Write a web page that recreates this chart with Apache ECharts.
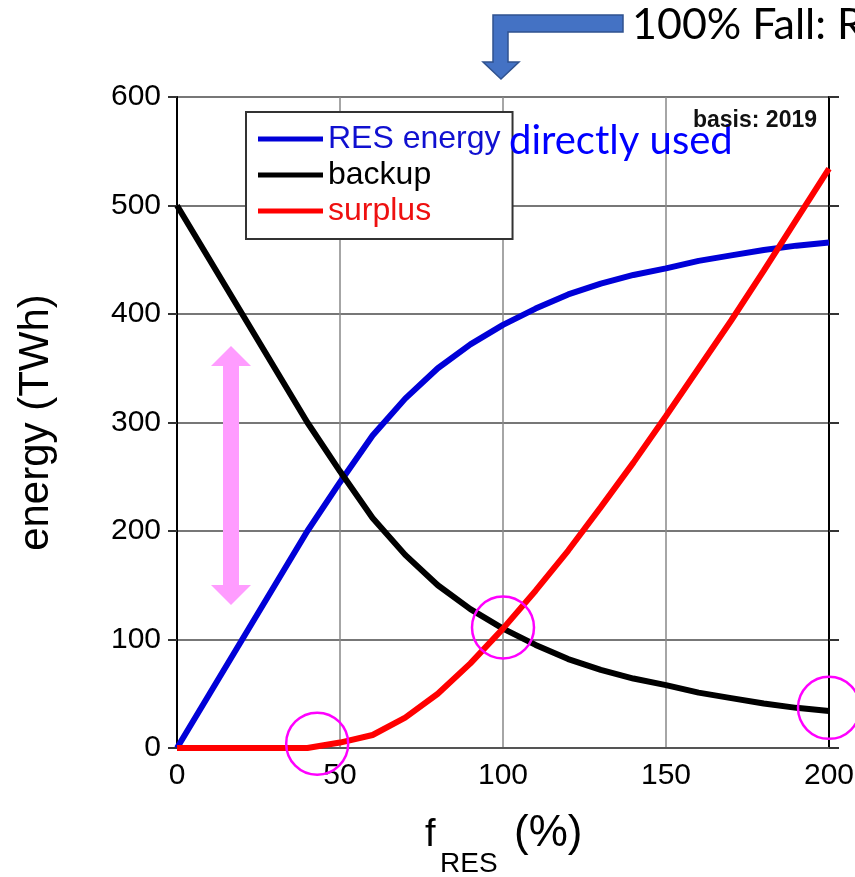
<!DOCTYPE html>
<html>
<head>
<meta charset="utf-8">
<script src="https://cdn.jsdelivr.net/npm/echarts@6/dist/echarts.min.js"></script>
<style>
html,body{margin:0;padding:0;background:#fff;}
#chart{width:855px;height:877px;}
</style>
</head>
<body>
<div id="chart"></div>
<script>
// ---- data ----
const fRes = [0,10,20,30,40,50,60,70,80,90,100,110,120,130,140,150,160,170,180,190,200];
const resDirect = [0,50,100,150,200,245,288,322,350,372,390,405,418,428,436,442,449,454,459,463,466];
const backup = [500,450,400,350,300,255,212,178,150,128,110,95,82,72,64,58,51,46,41,37,34];
const surplus = [0,0,0,0,0,5,12,28,50,78,110,145,182,222,263,306,350,394,440,487,534];
const seriesNames = ['RES energy','backup','surplus'];
const xTicks = [0,50,100,150,200];
const yTicks = [0,100,200,300,400,500,600];
const circlePoints = [[43,4],[100,111],[200,37]];

const pairs = (xs, ys) => xs.map((x,i)=>[x, ys[i]]);

const chart = echarts.init(document.getElementById('chart'), null, {renderer:'canvas'});
const AR = "'Liberation Sans', Arial, sans-serif";

const option = {
  animation:false,
  backgroundColor:'#fff',
  grid:{left:177, top:97, right:26, bottom:129, containLabel:false, outerBoundsMode:'none'},
  legend:{
    orient:'vertical', left:246, top:112,
    padding:[11,12,12,12],
    borderColor:'#333', borderWidth:2, backgroundColor:'#fff',
    icon:'rect', itemWidth:65, itemHeight:5, itemGap:4,
    selectedMode:false,
    textStyle:{fontFamily:AR, fontSize:32, lineHeight:32},
    data:[
      {name:seriesNames[0], textStyle:{color:'#1010d0'}},
      {name:seriesNames[1], textStyle:{color:'#000'}},
      {name:seriesNames[2], textStyle:{color:'#ee1010'}}
    ]
  },
  xAxis:{
    type:'value', min:xTicks[0], max:xTicks[xTicks.length-1], interval:50,
    axisLine:{show:true, onZero:false, lineStyle:{color:'#555', width:2}},
    axisTick:{show:false},
    axisLabel:{fontFamily:AR, fontSize:30, color:'#000', margin:13},
    splitLine:{show:true, lineStyle:{color:'#888', width:1.5}}
  },
  yAxis:[{
    type:'value', min:yTicks[0], max:yTicks[yTicks.length-1], interval:100,
    name:'energy (TWh)', nameLocation:'middle', nameRotate:90, nameGap:120,
    nameTextStyle:{fontFamily:AR, fontSize:42, color:'#000'},
    axisLine:{show:true, lineStyle:{color:'#000', width:2}},
    axisTick:{show:true, inside:false, length:9, lineStyle:{color:'#333', width:2}},
    axisLabel:{fontFamily:AR, fontSize:30, color:'#000', margin:16},
    splitLine:{show:true, lineStyle:{color:'#777', width:2}}
  },{
    type:'value', position:'right', min:yTicks[0], max:yTicks[yTicks.length-1], interval:100,
    axisLine:{show:true, lineStyle:{color:'#000', width:2}},
    axisTick:{show:true, inside:false, length:10, lineStyle:{color:'#333', width:2}},
    axisLabel:{show:false},
    splitLine:{show:false}
  }],
  series:[
    {name:seriesNames[0], type:'line', data:pairs(fRes,resDirect), showSymbol:false, symbol:'none',
     color:'#0000d8', lineStyle:{color:'#0000d8', width:6}, z:3},
    {name:seriesNames[1], type:'line', data:pairs(fRes,backup), showSymbol:false, symbol:'none',
     color:'#000', lineStyle:{color:'#000', width:6}, z:4},
    {name:seriesNames[2], type:'line', data:pairs(fRes,surplus), showSymbol:false, symbol:'none',
     color:'#ff0000', lineStyle:{color:'#ff0000', width:6}, z:5}
  ]
};
chart.setOption(option);

// annotations
const circles = circlePoints.map(p=>{
  const c = chart.convertToPixel({gridIndex:0}, p);
  return {type:'circle', shape:{cx:c[0], cy:c[1], r:31}, style:{fill:'none', stroke:'#ff00ff', lineWidth:2.5}, z:50};
});

const graphics = circles.concat([
  {type:'polygon', z:40,
   shape:{points:[[623,15],[623,32],[508,32],[508,62],[519,62],[501,79],[483,62],[493,62],[493,15]]},
   style:{fill:'#4472C4', stroke:'#2F528F', lineWidth:1.5}},
  {type:'polygon', z:40,
   shape:{points:[[231,346],[251,366],[239,366],[239,585],[251,585],[231,605],[211,585],[223,585],[223,366],[211,366]]},
   style:{fill:'#ff9cff'}},
  {type:'text', z:60, x:632, y:25, style:{text:'100% Fall: RES', fontFamily:"Lato, 'Open Sans', sans-serif", fontSize:43, fill:'#000', align:'left', verticalAlign:'middle'}},
  {type:'text', z:60, x:509, y:141, style:{text:'directly used', fontFamily:"Lato, 'Open Sans', sans-serif", fontSize:40, fill:'#0000ff', align:'left', verticalAlign:'middle'}},
  {type:'text', z:60, x:817, y:121, style:{text:'basis: 2019', fontFamily:AR, fontWeight:'bold', fontSize:23, fill:'#111', align:'right', verticalAlign:'middle'}},
  {type:'text', z:60, x:425, y:836, style:{text:'f', fontFamily:AR, fontSize:38, fill:'#000', align:'left', verticalAlign:'middle'}},
  {type:'text', z:60, x:440, y:864, style:{text:'RES', fontFamily:AR, fontSize:28, fill:'#000', align:'left', verticalAlign:'middle'}},
  {type:'text', z:60, x:514, y:834, style:{text:'(%)', fontFamily:AR, fontSize:44, fill:'#000', align:'left', verticalAlign:'middle'}}
]);
chart.setOption({graphic:graphics});
</script>
</body>
</html>
